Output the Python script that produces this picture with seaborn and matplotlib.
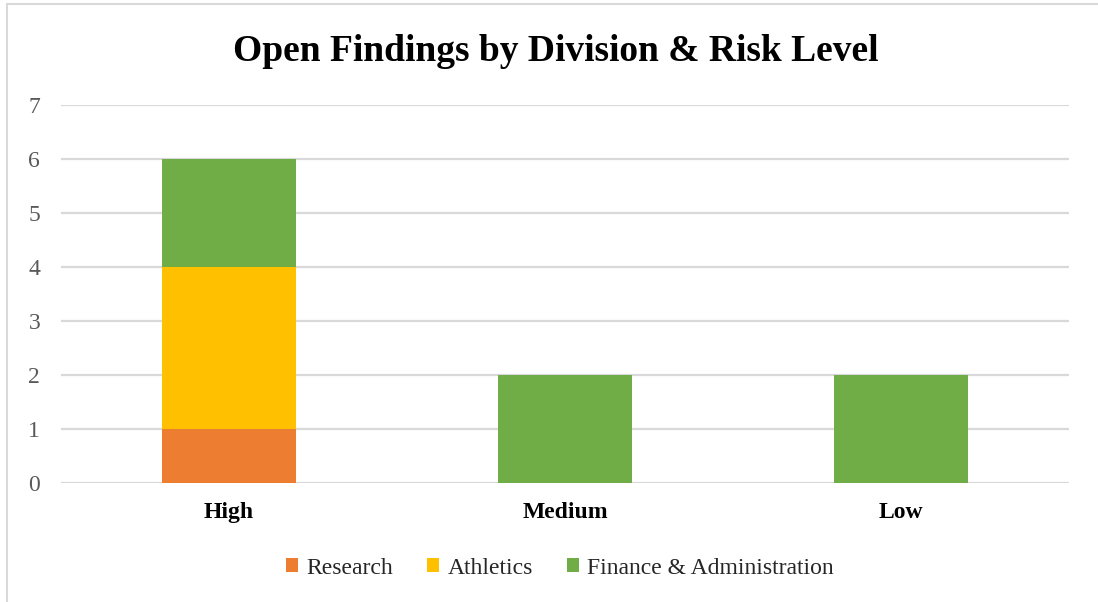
import numpy as np
import pandas as pd
import matplotlib
matplotlib.use("Agg")
import matplotlib.pyplot as plt
from matplotlib.patches import Patch
import seaborn as sns

# Data
risk_levels = ["High", "Medium", "Low"]
divisions = ["Research", "Athletics", "Finance & Administration"]
research = [1, 0, 0]
athletics = [3, 0, 0]
finance = [2, 2, 2]
colors = ["#ED7D31", "#FFC000", "#70AD47"]

sns.set_theme(style="white")
plt.rcParams["font.family"] = ["Liberation Serif", "DejaVu Serif"]

fig = plt.figure(figsize=(10.98, 6.02), dpi=100)
ax = fig.add_axes([61 / 1098, (602 - 483) / 602, (1069 - 61) / 1098, (483 - 105) / 602])

# Stacked bars via cumulative totals, drawn from the top segment down
series = [research, athletics, finance]
cum = np.cumsum(np.array(series), axis=0)
for i in reversed(range(len(series))):
    df = pd.DataFrame({"risk": risk_levels, "value": cum[i]})
    sns.barplot(data=df, x="risk", y="value", color=colors[i], width=0.4,
                saturation=1, ax=ax, zorder=3, linewidth=0)

ax.set_xlim(-0.5, 2.5)
ax.set_ylim(0, 7)
ax.set_yticks(range(0, 8))
ax.yaxis.grid(True, color="#D9D9D9", linewidth=1.6, zorder=0)
ax.set_axisbelow(True)
for s in ax.spines.values():
    s.set_visible(False)
ax.set_xlabel("")
ax.set_ylabel("")
ax.tick_params(axis="y", labelsize=17, labelcolor="#595959", length=0, pad=15)
ax.tick_params(axis="x", labelsize=17, labelcolor="black", length=0, pad=14)
for lbl in ax.get_xticklabels():
    lbl.set_fontweight("bold")

fig.text(556 / 1098, 1 - 61 / 602, "Open Findings by Division & Risk Level",
         ha="center", va="baseline", fontsize=27, fontweight="bold", color="black")

handles = [Patch(facecolor=c, edgecolor="none", label=d) for c, d in zip(colors, divisions)]
fig.legend(handles=handles, loc="center", bbox_to_anchor=(560 / 1098, 1 - 568 / 602),
           ncol=3, frameon=False, fontsize=17, handlelength=0.5, handleheight=0.5,
           handletextpad=0.35, columnspacing=1.45)

# Chart frame
fig.add_artist(plt.Line2D([7 / 1098, 7 / 1098], [0, 1 - 4 / 602], color="#D9D9D9", linewidth=1.5,
                          transform=fig.transFigure))
fig.add_artist(plt.Line2D([7 / 1098, 1], [1 - 4 / 602, 1 - 4 / 602], color="#D9D9D9", linewidth=1.5,
                          transform=fig.transFigure))

fig.savefig("out.png", dpi=100)
